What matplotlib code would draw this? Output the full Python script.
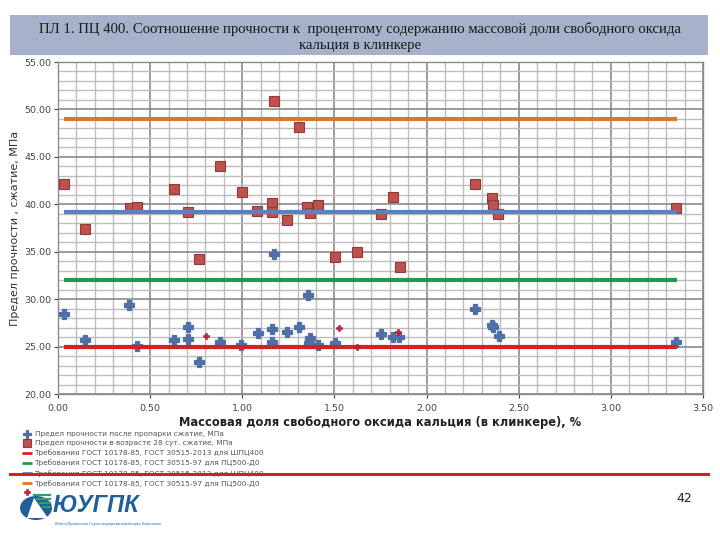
import matplotlib
matplotlib.use("Agg")
import matplotlib.pyplot as plt
from matplotlib.lines import Line2D
from matplotlib.patches import Rectangle, Circle, Polygon
import numpy as np

# ---------------- data ----------------
x_steam = [0.03, 0.145, 0.385, 0.43, 0.63, 0.707, 0.707, 0.765, 0.88, 0.995,
           1.085, 1.163, 1.163, 1.174, 1.243, 1.31, 1.354, 1.37, 1.362, 1.41,
           1.503, 1.754, 1.82, 1.852, 2.263, 2.353, 2.362, 2.395, 3.353]
y_steam = [28.5, 25.7, 29.4, 25.1, 25.7, 27.1, 25.8, 23.4, 25.5, 25.2,
           26.5, 26.85, 25.5, 34.8, 26.6, 27.1, 30.5, 25.9, 25.4, 25.2,
           25.4, 26.3, 26.0, 26.0, 29.0, 27.3, 27.1, 26.1, 25.5]

x_28 = [0.03, 0.145, 0.39, 0.43, 0.63, 0.707, 0.767, 0.88, 0.998,
        1.08, 1.163, 1.163, 1.174, 1.243, 1.31, 1.352, 1.367, 1.412,
        1.505, 1.62, 1.753, 1.82, 1.854, 2.263, 2.353, 2.362, 2.389, 3.353]
y_28 = [42.1, 37.4, 39.6, 39.7, 41.6, 39.2, 34.3, 44.0, 41.3,
        39.3, 40.2, 39.2, 50.9, 38.4, 48.2, 39.7, 39.1, 39.9,
        34.5, 35.0, 39.0, 40.8, 33.4, 42.1, 40.7, 39.9, 39.0, 39.6]

x_plus = [0.803, 1.523, 1.624, 1.843]
y_plus = [26.1, 27.0, 25.0, 26.6]

line_x = [0.033, 3.357]
req_red = 25.0     # ШПЦ400
req_green = 32.0   # ПЦ500-Д0
req_blue = 39.2    # ШПЦ400 28 сут
req_orange = 49.0  # ПЦ500-Д0 28 сут

x_ticks = [0.0, 0.5, 1.0, 1.5, 2.0, 2.5, 3.0, 3.5]
y_ticks = [20, 25, 30, 35, 40, 45, 50, 55]

labels = ["Предел прочности после пропарки сжатие, МПа",
          "Предел прочности в возрасте 28 сут. сжатие, МПа",
          "Требования ГОСТ 10178-85, ГОСТ 30515-2013 для ШПЦ400",
          "Требования ГОСТ 10178-85, ГОСТ 30515-97 для ПЦ500-Д0",
          "Требования ГОСТ 10178-85, ГОСТ 30515-2013 для ШПЦ400",
          "Требования ГОСТ 10178-85, ГОСТ 30515-97 для ПЦ500-Д0",
          ""]

title = ("ПЛ 1. ПЦ 400. Соотношение прочности к  процентому содержанию массовой доли свободного оксида\n"
         "кальция в клинкере")
xlabel = "Массовая доля свободного оксида кальция (в клинкере), %"
ylabel = "Предел прочности , сжатие, МПа"

# ---------------- figure ----------------
W, H = 720, 540
fig = plt.figure(figsize=(7.2, 5.4), dpi=100)
fig.patch.set_facecolor("white")

def fx(p):
    return p / W

def fy(p):
    return 1 - p / H

# title band
fig.patches.append(Rectangle((fx(10), fy(55)), fx(698), 40 / H, transform=fig.transFigure,
                             facecolor="#a6b2ca", edgecolor="none", zorder=0))
fig.text(fx(360), fy(37), title, ha="center", va="center", fontsize=10.6,
         family="Liberation Serif", color="#1a1a1a", linespacing=1.2)

ax = fig.add_axes([fx(58), fy(394.3), fx(703 - 58), (394.3 - 62) / H])
ax.set_xlim(0, 3.5)
ax.set_ylim(20, 55)
ax.set_xticks(x_ticks)
ax.set_yticks(y_ticks)
ax.set_xticks(np.arange(0, 3.51, 0.1), minor=True)
ax.set_yticks(np.arange(20, 55.1, 1), minor=True)
ax.set_xticklabels([f"{v:.2f}" for v in x_ticks])
ax.set_yticklabels([f"{v:.2f}" for v in y_ticks])
ax.tick_params(axis="both", which="major", labelsize=6.8, colors="#444444", length=3, pad=2)
ax.tick_params(axis="x", which="major", pad=4)
ax.tick_params(which="minor", length=0)
ax.grid(True, which="minor", color="#bdbdbd", lw=1.0, zorder=0)
ax.grid(True, which="major", color="#8a8a8a", lw=1.2, zorder=0)
ax.set_axisbelow(True)
for s in ax.spines.values():
    s.set_color("#8a8a8a")
    s.set_linewidth(1.0)

ax.set_xlabel(xlabel, fontsize=8.3, fontweight="bold", color="#222222", labelpad=2)
ax.set_ylabel(ylabel, fontsize=8, color="#333333", labelpad=3)

h1, = ax.plot(x_steam, y_steam, ls="none", marker="P", ms=6.5, mfc="#4f6fa6", mec="#4f6fa6",
              mew=0.9, zorder=3)
h2, = ax.plot(x_28, y_28, ls="none", marker="s", ms=7.5, mfc="#c0504d", mec="#8f3b39",
              mew=0.8, zorder=3)
h3, = ax.plot(line_x, [req_red, req_red], color="#d42222", lw=3.0, zorder=4,
              solid_capstyle="butt")
h4, = ax.plot(line_x, [req_green, req_green], color="#21994f", lw=3.0, zorder=4,
              solid_capstyle="butt")
h5, = ax.plot(line_x, [req_blue, req_blue], color="#5a82c0", lw=3.0, zorder=4,
              solid_capstyle="butt")
h6, = ax.plot(line_x, [req_orange, req_orange], color="#d67a2c", lw=3.0, zorder=4,
              solid_capstyle="butt")
h7, = ax.plot(x_plus, y_plus, ls="none", marker="P", ms=5, mfc="#c8203c", mec="#a01830",
              mew=0.4, zorder=5)

leg = fig.legend([h1, h2, h3, h4, h5, h6, h7], labels,
                 loc="upper left", bbox_to_anchor=(fx(22), fy(431)),
                 frameon=False, fontsize=5.3, labelspacing=0.42, handlelength=1.3,
                 handletextpad=0.4, borderpad=0, borderaxespad=0,
                 labelcolor="#555555", markerscale=0.8)
for lh in leg.get_lines():
    lh.set_linewidth(2.0)

# decoration line
fig.lines.append(Line2D([fx(10), fx(708)], [fy(474), fy(474)], transform=fig.transFigure,
                        color="#d42020", lw=2.2, zorder=10))

# logo
cx, cy, r = 36, 508, 16
fig.patches.append(Circle((fx(cx), fy(cy)), r / W, transform=fig.transFigure,
                          facecolor="#1f5f9a", edgecolor="none", zorder=5))
fig.patches.append(Polygon([(fx(cx - 9), fy(cy + 10)), (fx(cx + 12), fy(cy + 10)),
                            (fx(cx - 2), fy(cy - 10))], closed=True,
                           transform=fig.transFigure, facecolor="white",
                           edgecolor="none", zorder=6))
for k in range(4):
    fig.lines.append(Line2D([fx(cx - 2 + k * 3), fx(cx + 14)],
                            [fy(cy - 13 + k * 4), fy(cy - 13 + k * 4)],
                            transform=fig.transFigure, color="#2f9e6a", lw=1.6, zorder=7))
fig.text(fx(53), fy(505), "ЮУГПК", fontsize=17, fontweight="bold", style="italic",
         family=["Liberation Sans Narrow", "Liberation Sans", "DejaVu Sans"],
         color="#1f5f9a", ha="left", va="center")
fig.text(fx(55), fy(524), "Южно-Уральская Горно-перерабатывающая Компания", fontsize=2.6,
         color="#1f5f9a", ha="left", va="center")

fig.text(fx(684), fy(498), "42", fontsize=9, color="#222222", ha="center", va="center")

fig.savefig("out.png", dpi=100)
